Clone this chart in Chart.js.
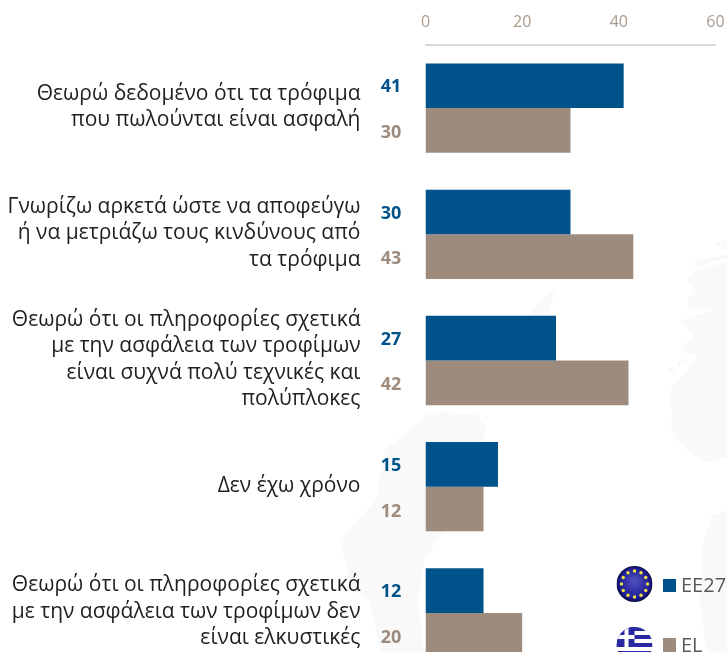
<!DOCTYPE html>
<html><head><meta charset="utf-8">
<style>html,body{margin:0;padding:0;background:#fff;overflow:hidden;width:727px;height:652px}canvas{display:block}</style>
<script src="https://cdn.jsdelivr.net/npm/chart.js@4"></script></head>
<body><canvas id="c" width="727" height="676"></canvas>
<script>
const categories = [
  ["Θεωρώ δεδομένο ότι τα τρόφιμα","που πωλούνται είναι ασφαλή"],
  ["Γνωρίζω αρκετά ώστε να αποφεύγω","ή να μετριάζω τους κινδύνους από","τα τρόφιμα"],
  ["Θεωρώ ότι οι πληροφορίες σχετικά","με την ασφάλεια των τροφίμων","είναι συχνά πολύ τεχνικές και","πολύπλοκες"],
  ["Δεν έχω χρόνο"],
  ["Θεωρώ ότι οι πληροφορίες σχετικά","με την ασφάλεια των τροφίμων δεν","είναι ελκυστικές"]
];
const eu27 = [41,30,27,15,12];
const el = [30,43,42,12,20];
const seriesNames = ["EE27","EL"];
const blue = "#00538A", tan = "#9D8B7E";

const backdrop = {id:"backdrop",beforeDraw(ch){
  const c = ch.ctx; c.save(); c.fillStyle="#f9f9f9";
  const shapes=[
   [[727,240],[714,243],[727,252],[727,255],[695,260],[697,270],[710,262],[727,258],[727,262],[692,272],[687,280],[697,293],[687,300],[690,308],[713,310],[682,320],[693,337],[682,347],[684,353],[697,355],[690,367],[672,387],[668,400],[672,410],[671,427],[677,440],[690,453],[707,462],[727,457]],
   [[668,370],[673,365],[674,372],[669,374]],[[676,365],[680,361],[680,368]],[[683,361],[687,358],[686,365]],
   [[703,545],[712,515],[727,510],[727,652],[706,652],[700,600]],
   [[530,312],[545,296],[557,287],[552,300],[548,313],[538,316]],
   [[426,415],[442,412],[475,414],[486,427],[482,445],[470,465],[462,490],[458,520],[440,535],[424,560],[418,600],[424,652],[380,652],[370,600],[352,590],[340,540],[376,500],[385,450],[410,430]]
  ];
  for(const s of shapes){c.beginPath();s.forEach((p,i)=>i?c.lineTo(p[0],p[1]):c.moveTo(p[0],p[1]));c.closePath();c.fill();}
  c.restore();
}};

const annotate = {id:"annotate",afterDatasetsDraw(ch){
  const c = ch.ctx; c.save();
  c.font='bold 18px "Open Sans"'; c.textAlign="center"; c.textBaseline="middle";
  ch.data.datasets.forEach((d,i)=>{
    c.fillStyle=d.backgroundColor;
    ch.getDatasetMeta(i).data.forEach((b,j)=>c.fillText(String(d.data[j]),391,b.y+1.5+i));
  });
  flag(c,634.5,584,0); flag(c,634.5,645,1);
  c.fillStyle=blue; c.fillRect(663,579,13,13);
  c.fillStyle=tan; c.fillRect(663,638,13,14);
  c.font='20px "Open Sans"'; c.textAlign="left"; c.fillStyle="#595959";
  c.fillText(seriesNames[0],681,586); c.fillText(seriesNames[1],681,646);
  c.restore();
}};
function flag(c,x,y,k){
  const r=18;
  c.save(); c.beginPath(); c.arc(x,y,r,0,Math.PI*2); c.clip();
  if(k===0){
    const g=c.createRadialGradient(x,y-3,3,x,y,r);
    g.addColorStop(0,"#4a4ab8");g.addColorStop(.8,"#1c1c94");g.addColorStop(1,"#0a0a40");
    c.fillStyle=g;c.fillRect(x-r,y-r,2*r,2*r);
    c.fillStyle="#f2e23a";
    for(let i=0;i<12;i++){const a=i*Math.PI/6;c.beginPath();c.arc(x+13*Math.cos(a),y+13*Math.sin(a),1.7,0,7);c.fill();}
  }else{
    c.fillStyle="#fff";c.fillRect(x-r,y-r,2*r,2*r);
    c.fillStyle="#2a2aa0";
    for(let i=0;i<5;i++)c.fillRect(x-r,y-r+i*8,2*r,4);
    c.fillRect(x-r,y-r,18,20);
    c.fillStyle="#fff";c.fillRect(x-r,y-10,18,4);c.fillRect(x-10,y-r,4,20);
  }
  c.restore();
}

new Chart(document.getElementById("c"),{
  type:"bar",
  data:{labels:categories,datasets:[
    {label:seriesNames[0],data:eu27,backgroundColor:blue},
    {label:seriesNames[1],data:el,backgroundColor:tan}
  ]},
  plugins:[backdrop,annotate],
  options:{
    indexAxis:"y",responsive:false,animation:false,
    categoryPercentage:.708,barPercentage:1,
    layout:{padding:{left:0,right:11.5,top:0,bottom:0}},
    plugins:{legend:{display:false},tooltip:{enabled:false}},
    scales:{
      x:{position:"top",min:0,max:60,
        afterFit(s){s.height=45;s.paddingLeft=0;s.paddingRight=0;},
        border:{display:true,color:"#d9d9d9",width:2},
        grid:{display:false,drawTicks:false},
        ticks:{stepSize:20,padding:13,maxRotation:0,color:"#A89A8E",font:{family:"Open Sans",size:16}}},
      y:{
        afterFit(s){s.width=425.5;s.paddingTop=0;s.paddingBottom=0;},
        border:{display:false},grid:{display:false,drawTicks:false},
        ticks:{padding:65,labelOffset:-1,autoSkip:false,color:"#1f1f1f",font:{family:"Open Sans",size:21,lineHeight:1.26}}}
    }
  }
});
</script></body></html>
